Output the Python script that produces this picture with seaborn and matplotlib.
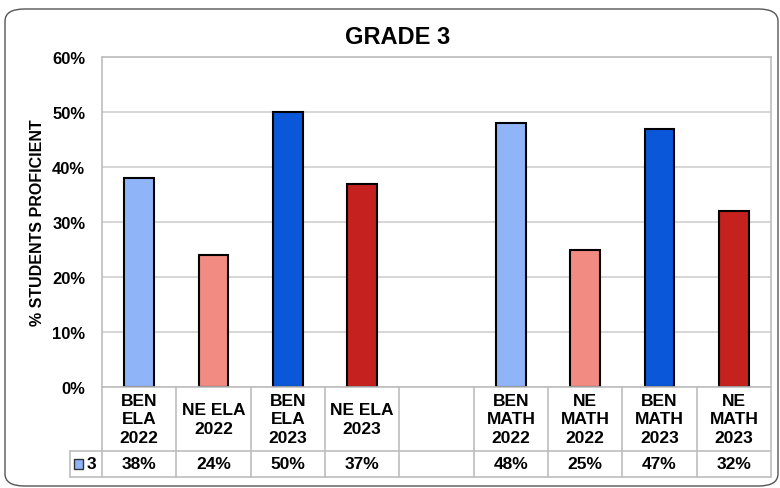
import matplotlib
matplotlib.use("Agg")
import matplotlib.pyplot as plt
import matplotlib.transforms as mtransforms
from matplotlib.patches import FancyBboxPatch, Rectangle
import numpy as np
import pandas as pd
import seaborn as sns

# data
categories = ["BEN\nELA\n2022", "NE ELA\n2022", "BEN\nELA\n2023", "NE ELA\n2023", "",
              "BEN\nMATH\n2022", "NE\nMATH\n2022", "BEN\nMATH\n2023", "NE\nMATH\n2023"]
values = [38, 24, 50, 37, np.nan, 48, 25, 47, 32]
value_labels = ["38%", "24%", "50%", "37%", "", "48%", "25%", "47%", "32%"]
bar_colors = ["#8FB4F8", "#F28B82", "#0B57D9", "#C5221F", "#FFFFFF",
              "#8FB4F8", "#F28B82", "#0B57D9", "#C5221F"]
yticks = [0, 10, 20, 30, 40, 50, 60]
series_name = "3"

sns.set_theme(style="white")
plt.rcParams["font.family"] = ["Liberation Sans", "DejaVu Sans"]
plt.rcParams["text.color"] = "black"
plt.rcParams["axes.labelcolor"] = "black"
plt.rcParams["ytick.color"] = "black"

W, H = 780, 489
fig = plt.figure(figsize=(W / 100, H / 100), dpi=100)
ax = fig.add_axes([102 / W, (H - 388) / H, 669 / W, 330 / H])

df = pd.DataFrame({"cat": categories, "val": values})
sns.barplot(data=df, x="cat", y="val", hue="cat", order=categories, hue_order=categories,
            palette=dict(zip(categories, bar_colors)), width=0.4, legend=False,
            saturation=1, edgecolor="black", linewidth=1.5, ax=ax)

ax.set_xlim(-0.5, len(categories) - 0.5)
ax.set_ylim(0, 60)
ax.set_yticks(yticks)
ax.set_yticklabels([f"{t}%" for t in yticks], fontsize=12, fontweight="bold")
ax.tick_params(axis="y", length=0, pad=12)
ax.set_xticks([])
ax.set_xlabel("")
ax.set_ylabel("% STUDENTS PROFICIENT", fontsize=11.5, fontweight="bold", labelpad=5)
ax.yaxis.grid(True, color="#CFCFCF", linewidth=1.2)
ax.set_axisbelow(True)
for s in ["left", "right", "top", "bottom"]:
    ax.spines[s].set_color("#BDBDBD")
    ax.spines[s].set_linewidth(1.2)

fig.text(398 / W, 1 - 38 / H, "GRADE 3", ha="center", va="center",
         fontsize=17, fontweight="bold")

# data table below the axes
trans = mtransforms.blended_transform_factory(ax.transData, ax.transAxes)
n = len(categories)
row1 = -64 / 330
row2 = -90 / 330
xl = -0.5 - 32 / (669 / n)
line_kw = dict(color="#BDBDBD", linewidth=1.2, clip_on=False, transform=trans)
ax.plot([xl, n - 0.5], [row1, row1], **line_kw)
ax.plot([xl, n - 0.5], [row2, row2], **line_kw)
ax.plot([xl, xl], [row1, row2], **line_kw)
for i in range(n + 1):
    ax.plot([i - 0.5, i - 0.5], [0, row2], **line_kw)

for i, (c, v) in enumerate(zip(categories, value_labels)):
    ax.text(i, row1 / 2, c, ha="center", va="center", fontsize=12.5, fontweight="bold",
            linespacing=1.3, transform=trans)
    ax.text(i, (row1 + row2) / 2, v, ha="center", va="center", fontsize=12.5,
            fontweight="bold", transform=trans)

# legend key in the table
kx = xl + 0.05
ax.add_patch(Rectangle((kx, (row1 + row2) / 2 - 0.015), 0.13, 0.03, transform=trans,
                       facecolor=bar_colors[0], edgecolor="#333333", linewidth=1,
                       clip_on=False))
ax.text(kx + 0.17, (row1 + row2) / 2, series_name, ha="left", va="center",
        fontsize=12.5, fontweight="bold", transform=trans)

# rounded chart border
fig.patches.append(FancyBboxPatch((5 / W, 2 / H), 773 / W, 477 / H,
                                  boxstyle="round,pad=0,rounding_size=0.025",
                                  transform=fig.transFigure, facecolor="none",
                                  edgecolor="#555555", linewidth=1))

fig.savefig("out.png", dpi=100)
